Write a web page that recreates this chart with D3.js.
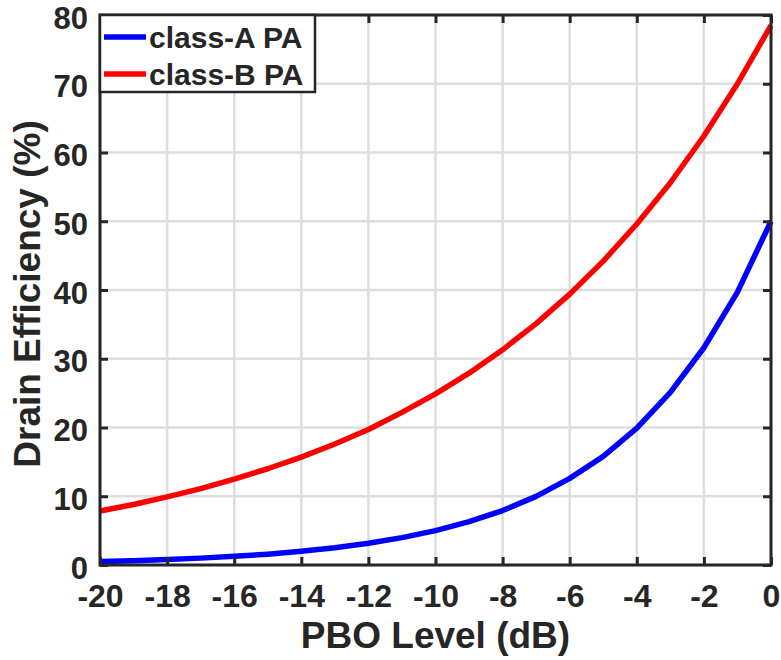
<!DOCTYPE html>
<html>
<head>
<meta charset="utf-8">
<script src="https://cdn.jsdelivr.net/npm/d3@7/dist/d3.min.js"></script>
<style>
  body { margin: 0; background: #fff; }
  text { font-family: "Liberation Sans", Arial, Helvetica, sans-serif; font-weight: bold; fill: #262626; }
</style>
</head>
<body>
<div id="chart"></div>
<script>
// PBO levels (dB), 1 dB steps
const pbo = [-20, -19, -18, -17, -16, -15, -14, -13, -12, -11, -10, -9, -8, -7, -6, -5, -4, -3, -2, -1, 0];
// drain efficiency (%)
const classA = [0.50, 0.63, 0.79, 1.00, 1.26, 1.58, 2.00, 2.51, 3.16, 3.98, 5.00, 6.30, 7.92, 9.98, 12.6, 15.8, 19.9, 25.1, 31.6, 39.7, 50.0];
const classB = [7.85, 8.8, 9.9, 11.1, 12.5, 14.0, 15.7, 17.6, 19.7, 22.2, 24.9, 27.9, 31.3, 35.1, 39.4, 44.2, 49.6, 55.6, 62.4, 70.0, 78.5];
const xTicks = [-20, -18, -16, -14, -12, -10, -8, -6, -4, -2, 0];
const yTicks = [0, 10, 20, 30, 40, 50, 60, 70, 80];
const seriesNames = ['class-A PA', 'class-B PA'];
const seriesColors = ['#0000ff', '#ff0000'];

(function(){
const W = 781, H = 660;
const pl = 100, pr = 771, pt = 15, pb = 565;
const axisColor = '#262626';

const svg = d3.select('#chart').append('svg')
  .attr('width', W)
  .attr('height', H);

const x = d3.scaleLinear().domain([-20, 0]).range([pl, pr]);
const y = d3.scaleLinear().domain([0, 80]).range([pb, pt]);

// grid
const grid = svg.append('g');
grid.selectAll('.gx').data(xTicks).enter().append('line')
  .attr('x1', d => x(d)).attr('x2', d => x(d))
  .attr('y1', pt).attr('y2', pb)
  .attr('stroke', '#dedede').attr('stroke-width', 2.5);
grid.selectAll('.gy').data(yTicks).enter().append('line')
  .attr('y1', d => y(d)).attr('y2', d => y(d))
  .attr('x1', pl).attr('x2', pr)
  .attr('stroke', '#dedede').attr('stroke-width', 2.5);

// curves
const line = d3.line()
  .x((d, i) => x(pbo[i]))
  .y(d => y(d));

[classA, classB].forEach((s, k) => {
  svg.append('path')
    .datum(s)
    .attr('d', line)
    .attr('fill', 'none')
    .attr('stroke', seriesColors[k])
    .attr('stroke-width', 5.5)
    .attr('stroke-linejoin', 'round');
});

// plain hyphen for negatives, like the original
const fmt = d => String(d);

// axes with inward ticks
const xAxis = svg.append('g')
  .attr('transform', `translate(0,${pb})`)
  .call(d3.axisBottom(x).tickValues(xTicks).tickSizeInner(-8).tickSizeOuter(0).tickPadding(0).tickFormat(fmt));
xAxis.selectAll('text').attr('y', 42).attr('dy', 0).style('font-size', '32px');

const yAxis = svg.append('g')
  .attr('transform', `translate(${pl},0)`)
  .call(d3.axisLeft(y).tickValues(yTicks).tickSizeInner(-8).tickSizeOuter(0).tickPadding(0).tickFormat(fmt));
yAxis.selectAll('text').attr('x', -12).attr('dy', '0.42em').style('font-size', '31px');

// top and right ticks
svg.append('g').attr('transform', `translate(0,${pt})`)
  .call(d3.axisTop(x).tickValues(xTicks).tickSizeInner(-8).tickSizeOuter(0).tickFormat(''));
svg.append('g').attr('transform', `translate(${pr},0)`)
  .call(d3.axisRight(y).tickValues(yTicks).tickSizeInner(-8).tickSizeOuter(0).tickFormat(''));

svg.selectAll('.domain').remove();
svg.selectAll('.tick line').attr('stroke', axisColor).attr('stroke-width', 3);

// box
svg.append('rect')
  .attr('x', pl).attr('y', pt)
  .attr('width', pr - pl).attr('height', pb - pt)
  .attr('fill', 'none')
  .attr('stroke', axisColor)
  .attr('stroke-width', 3);

// axis labels
svg.append('text')
  .attr('x', (pl + pr) / 2)
  .attr('y', 648)
  .attr('text-anchor', 'middle')
  .style('font-size', '37px')
  .text('PBO Level (dB)');

svg.append('text')
  .attr('transform', `translate(40,${(pt + pb) / 2 + 4}) rotate(-90)`)
  .attr('text-anchor', 'middle')
  .style('font-size', '37px')
  .text('Drain Efficiency (%)');

// legend
const legend = svg.append('g');
legend.append('rect')
  .attr('x', pl).attr('y', pt)
  .attr('width', 215).attr('height', 77)
  .attr('fill', '#fff')
  .attr('stroke', axisColor)
  .attr('stroke-width', 2.5);

seriesNames.forEach((name, k) => {
  const ly = 37 + k * 37;
  legend.append('line')
    .attr('x1', 104).attr('x2', 146)
    .attr('y1', ly).attr('y2', ly)
    .attr('stroke', seriesColors[k])
    .attr('stroke-width', 5.5);
  legend.append('text')
    .attr('x', 149)
    .attr('y', ly + 11)
    .style('font-size', '30px')
    .text(name);
});
})();
</script>
</body>
</html>
